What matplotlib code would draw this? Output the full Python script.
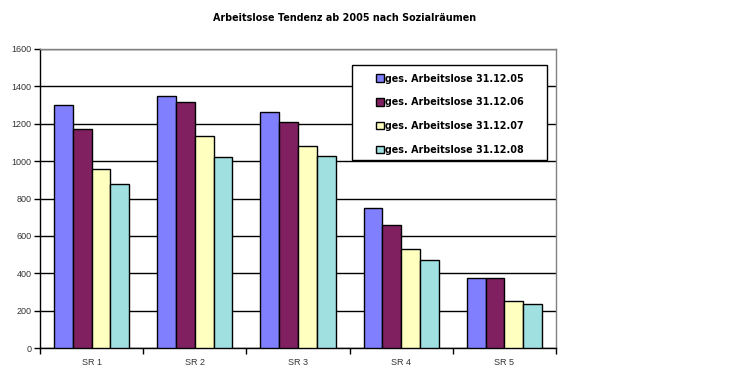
import matplotlib
matplotlib.use("Agg")
import matplotlib.pyplot as plt
from matplotlib.patches import Rectangle
import numpy as np

categories = ["SR 1", "SR 2", "SR 3", "SR 4", "SR 5"]
series_names = ["ges. Arbeitslose 31.12.05", "ges. Arbeitslose 31.12.06",
                "ges. Arbeitslose 31.12.07", "ges. Arbeitslose 31.12.08"]
v2005 = [1300, 1349, 1263, 749, 375]
v2006 = [1172, 1318, 1209, 660, 375]
v2007 = [958, 1134, 1081, 530, 251]
v2008 = [878, 1022, 1025, 471, 235]
colors = ["#8080FF", "#802060", "#FFFFC0", "#A0E0E0"]
yticks = [0, 200, 400, 600, 800, 1000, 1200, 1400, 1600]

plt.rcParams['font.family'] = ['Liberation Sans', 'DejaVu Sans']

W, H = 729, 377
fig = plt.figure(figsize=(W/100, H/100), dpi=100)
L, B, R, T = 40, 348, 556, 49
ax = fig.add_axes([L/W, (H-B)/H, (R-L)/W, (B-T)/H])

def axx(px):
    return (px - L) / (R - L)

def axy(py):
    return (B - py) / (B - T)

data = [v2005, v2006, v2007, v2008]
x = np.arange(len(categories))
gw = 0.727
bw = gw/4
for i, (vals, c, name) in enumerate(zip(data, colors, series_names)):
    ax.bar(x - gw/2 + bw*(i+0.5), vals, width=bw, color=c, edgecolor="black",
           linewidth=1.0, label=name, zorder=3)

ax.set_xlim(-0.5, len(categories)-0.5)
ax.set_ylim(0, 1600)
ax.set_yticks(yticks)
ax.set_yticklabels([str(t) for t in yticks], fontsize=6.5, color="#333333")
ax.yaxis.grid(True, color="black", linewidth=1.0, zorder=0)
ax.set_axisbelow(True)

ax.set_xticks(x)
ax.set_xticklabels(categories, fontsize=6.5, color="#333333")
ax.tick_params(axis='x', length=0, pad=7)
ax.set_xticks(np.arange(len(categories)+1) - 0.5, minor=True)
ax.tick_params(axis='x', which='minor', length=4, width=1, color="black", direction="out")
ax.tick_params(axis='y', length=4, width=1, direction="out", pad=2)

for s in ["top", "right"]:
    ax.spines[s].set_color("#808080")
    ax.spines[s].set_linewidth(1.0)
for s in ["left", "bottom"]:
    ax.spines[s].set_color("black")
    ax.spines[s].set_linewidth(1.0)

# legend box
box = Rectangle((axx(352), axy(160)), axx(547) - axx(352), axy(65) - axy(160),
                transform=ax.transAxes, facecolor="white", edgecolor="black",
                linewidth=1.0, zorder=4, clip_on=False)
ax.add_patch(box)

leg = ax.legend(loc="upper left", bbox_to_anchor=(axx(376), axy(73.5)),
                prop={'family': ['DejaVu Sans'], 'weight': 'bold', 'size': 6.95},
                frameon=False,
                handlelength=0.8, handleheight=0.8, handletextpad=0.1,
                labelspacing=1.42, borderpad=0, borderaxespad=0)
leg.set_zorder(5)
for t in leg.get_texts():
    t.set_color("black")

fig.text(345/W, 1-18/H, "Arbeitslose Tendenz ab 2005 nach Sozialräumen",
         ha="center", va="center", fontsize=6.95, fontweight="bold",
         family=['DejaVu Sans'])

fig.savefig("out.png", dpi=100, facecolor="white")
